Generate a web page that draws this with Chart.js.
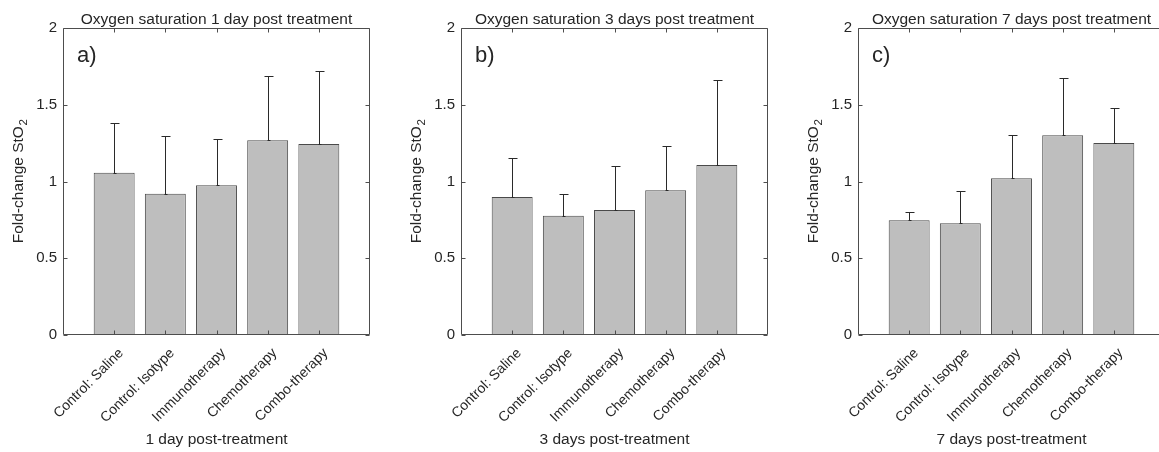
<!DOCTYPE html>
<html><head><meta charset="utf-8">
<script src="https://cdn.jsdelivr.net/npm/chart.js@4.4.1/dist/chart.umd.min.js"></script>
<style>
html,body{margin:0;padding:0;background:#fff;overflow:hidden;width:1159px;height:452px;}
.wrap{position:absolute;top:0;height:452px;overflow:hidden;}
canvas{position:absolute;top:0;left:0;}
</style></head><body>
<div class="wrap" style="left:0px;width:390px"><canvas id="ca" width="390" height="452"></canvas></div>
<div class="wrap" style="left:398px;width:385px"><canvas id="cb" width="385" height="452"></canvas></div>
<div class="wrap" style="left:795px;width:364px"><canvas id="cc" width="380" height="452"></canvas></div>
<script>
const categories = ['Control: Saline', 'Control: Isotype', 'Immunotherapy', 'Chemotherapy', 'Combo-therapy'];
const yTickValues = [0, 0.5, 1, 1.5, 2];
const day1Means  = [1.057, 0.920, 0.975, 1.268, 1.244];
const day1Errors = [0.322, 0.378, 0.304, 0.419, 0.478];
const day3Means  = [0.899, 0.777, 0.814, 0.943, 1.107];
const day3Errors = [0.252, 0.140, 0.287, 0.290, 0.552];
const day7Means  = [0.747, 0.728, 1.021, 1.301, 1.251];
const day7Errors = [0.052, 0.208, 0.284, 0.373, 0.226];
const panelTitles = ['Oxygen saturation 1 day post treatment', 'Oxygen saturation 3 days post treatment', 'Oxygen saturation 7 days post treatment'];
const xAxisTitles = ['1 day post-treatment', '3 days post-treatment', '7 days post-treatment'];
const panelLetters = ['a)', 'b)', 'c)'];
const yAxisTitle = 'Fold-change StO';
const yAxisSub = '2';

const FONT = "'Liberation Sans', Arial, Helvetica, sans-serif";
const TEXT = '#262626';
const AXIS = '#4d4d4d';

const matlabPlugin = {
  id: 'matlabLook',
  afterDatasetsDraw(chart, args, opts) {
    const {ctx, scales: {y}} = chart;
    const meta = chart.getDatasetMeta(0);
    const data = chart.data.datasets[0].data;
    ctx.save();
    ctx.strokeStyle = '#2a2a2a';
    ctx.lineWidth = 1;
    meta.data.forEach((bar, i) => {
      const v = data[i];
      const e = opts.errors[i];
      if (v == null || e == null) return;
      const px = Math.round(bar.x) + 0.5;
      const y0 = Math.round(y.getPixelForValue(v)) + 0.5;
      const y1 = Math.round(y.getPixelForValue(v + e)) + 0.5;
      ctx.beginPath();
      ctx.moveTo(px, y0); ctx.lineTo(px, y1);
      ctx.moveTo(px - 4, y1); ctx.lineTo(px + 5, y1);
      ctx.moveTo(px - 1, y0); ctx.lineTo(px + 2, y0);
      ctx.stroke();
    });
    ctx.restore();
  },
  afterDraw(chart, args, opts) {
    const {ctx, chartArea: a, scales: {x, y}} = chart;
    ctx.save();
    ctx.strokeStyle = AXIS;
    ctx.lineWidth = 1;
    const L = Math.round(a.left) + 0.5, R = Math.round(a.right) - 0.5;
    const T = Math.round(a.top) + 0.5, B = Math.round(a.bottom) - 0.5;
    ctx.beginPath();
    ctx.rect(L, T, R - L, B - T);
    yTickValues.forEach(v => {
      const py = Math.round(y.getPixelForValue(v)) + 0.5;
      ctx.moveTo(L, py); ctx.lineTo(L + 4, py);
      ctx.moveTo(R, py); ctx.lineTo(R - 4, py);
    });
    chart.data.labels.forEach((lab, i) => {
      if (!lab) return;
      const px = Math.round(x.getPixelForValue(i)) + 0.5;
      ctx.moveTo(px, B); ctx.lineTo(px, B - 4);
      ctx.moveTo(px, T); ctx.lineTo(px, T + 4);
    });
    ctx.stroke();

    // panel letter
    ctx.fillStyle = TEXT;
    ctx.font = '22px ' + FONT;
    ctx.textAlign = 'left';
    ctx.textBaseline = 'alphabetic';
    ctx.fillText(opts.letter, a.left + 14, a.top + 34);

    // y axis title with subscript
    const cy = (a.top + a.bottom) / 2;
    const bx = a.left - 40;
    ctx.translate(bx, cy);
    ctx.rotate(-Math.PI / 2);
    ctx.font = '15.5px ' + FONT;
    const w1 = ctx.measureText(yAxisTitle).width;
    ctx.font = '11.5px ' + FONT;
    const w2 = ctx.measureText(yAxisSub).width;
    const start = -(w1 + w2) / 2;
    ctx.font = '15.5px ' + FONT;
    ctx.fillText(yAxisTitle, start, 0);
    ctx.font = '11.5px ' + FONT;
    ctx.fillText(yAxisSub, start + w1 + 0.5, 4);
    ctx.restore();
  }
};

function makePanel(canvasId, means, errors, idx, plotLeft, plotRight, canvasLeft, canvasWidth) {
  const labels = [''].concat(categories, ['']);
  const values = [null].concat(means, [null]);
  const errs = [null].concat(errors, [null]);
  const yWidth = plotLeft - canvasLeft;
  const padRight = canvasLeft + canvasWidth - plotRight;
  return new Chart(document.getElementById(canvasId), {
    type: 'bar',
    data: {
      labels: labels,
      datasets: [{
        data: values,
        backgroundColor: '#bebebe',
        borderColor: '#4a4a4a',
        borderWidth: 1,
        categoryPercentage: 1.0,
        barPercentage: 0.8
      }]
    },
    options: {
      responsive: false,
      animation: false,
      devicePixelRatio: 1,
      layout: { padding: { left: 0, right: padRight, top: 0, bottom: 0 } },
      plugins: {
        legend: { display: false },
        tooltip: { enabled: false },
        title: {
          display: true,
          text: panelTitles[idx],
          fullSize: false,
          color: TEXT,
          font: { family: FONT, size: 15.5, weight: 'normal', lineHeight: 1 },
          padding: { top: 12, bottom: 0.5 }
        },
        matlabLook: { errors: errs, letter: panelLetters[idx] }
      },
      scales: {
        x: {
          type: 'category',
          offset: false,
          grid: { display: false, drawTicks: false },
          border: { display: false },
          ticks: {
            autoSkip: false, minRotation: 45, maxRotation: 45, padding: 10, labelOffset: 7,
            color: TEXT, font: { family: FONT, size: 14 }
          },
          title: {
            display: true, text: xAxisTitles[idx], color: TEXT,
            font: { family: FONT, size: 15.5, lineHeight: 1 },
            padding: { top: 0, bottom: 5 }
          },
          afterFit(scale) {
            scale.height = 117;
            scale.paddingLeft = 0; scale.paddingRight = 0;
            scale.paddingTop = 0; scale.paddingBottom = 0;
          }
        },
        y: {
          min: 0, max: 2,
          grid: { display: false, drawTicks: false },
          border: { display: false },
          ticks: {
            stepSize: 0.5, padding: 6, color: TEXT,
            font: { family: FONT, size: 15 },
            callback: (v) => String(v)
          },
          afterFit(scale) {
            scale.width = yWidth;
            scale.paddingTop = 0; scale.paddingBottom = 0;
            scale.paddingLeft = 0; scale.paddingRight = 0;
          }
        }
      }
    },
    plugins: [matlabPlugin]
  });
}

makePanel('ca', day1Means, day1Errors, 0, 63, 370, 0, 390);
makePanel('cb', day3Means, day3Errors, 1, 461, 768, 398, 385);
makePanel('cc', day7Means, day7Errors, 2, 858, 1165, 795, 380);
</script>
</body></html>
